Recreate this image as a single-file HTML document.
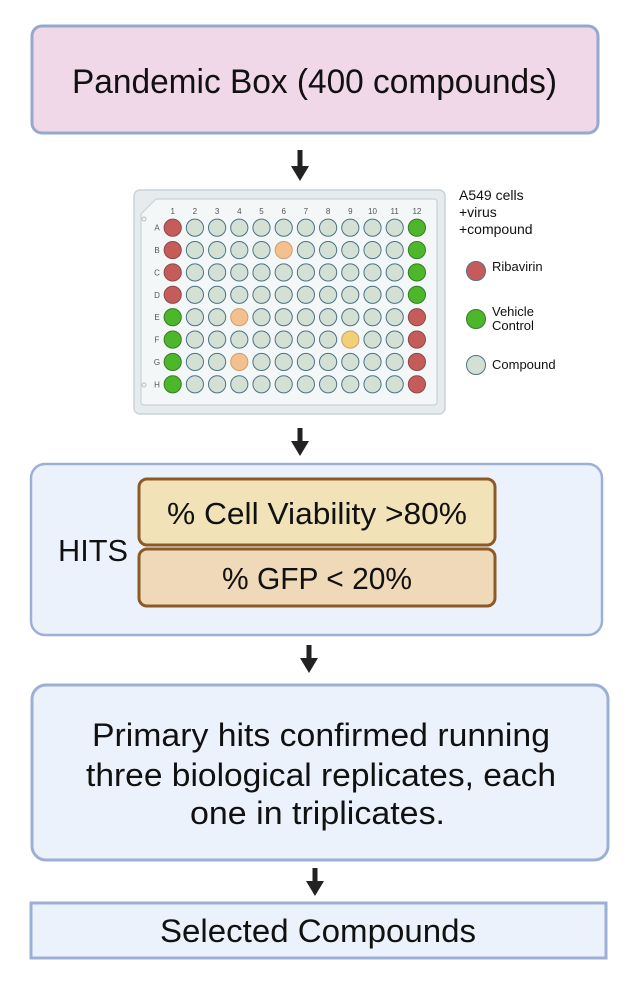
<!DOCTYPE html>
<html><head><meta charset="utf-8"><style>
html,body{margin:0;padding:0;background:#fff;}
svg{display:block;}
text{font-family:"Liberation Sans",sans-serif;fill:#111;}
</style></head><body>
<svg width="640" height="981" viewBox="0 0 640 981" xmlns="http://www.w3.org/2000/svg">
<rect x="32" y="26" width="566" height="107" rx="10" fill="#f1d8e9" stroke="#94a9cf" stroke-width="3"/>
<text x="72" y="93" font-size="34" textLength="485" lengthAdjust="spacingAndGlyphs">Pandemic Box (400 compounds)</text>
<g fill="#222">
<rect x="297.5" y="150" width="5" height="18"/><polygon points="291,166 309,166 300,181"/>
<rect x="297.5" y="428" width="5" height="15"/><polygon points="291,441 309,441 300,456"/>
<rect x="306.5" y="645" width="5" height="15"/><polygon points="300,658 318,658 309,673"/>
<rect x="312.5" y="868" width="5" height="15"/><polygon points="306,881 324,881 315,896"/>
</g>
<rect x="134" y="190" width="311" height="224" rx="6" fill="#e6ecee" stroke="#c9d3d8" stroke-width="1.5"/>
<path d="M156 199 H434 Q437 199 437 202 V402 Q437 405 434 405 H144 Q141 405 141 402 V214 Z" fill="#f4f7f8" stroke="#c9d3d8" stroke-width="1.2"/>
<circle cx="144" cy="219" r="2" fill="none" stroke="#bbb"/>
<circle cx="144" cy="385" r="2" fill="none" stroke="#bbb"/>
<g id="plate"></g>
<text x="459" y="200" font-size="14">A549 cells</text>
<text x="459" y="217" font-size="14">+virus</text>
<text x="459" y="234" font-size="14">+compound</text>
<circle cx="476" cy="271" r="9.5" fill="#c65c5a" stroke="#5a6b8a" stroke-width="1"/>
<text x="492" y="271" font-size="13">Ribavirin</text>
<circle cx="476" cy="319" r="9.5" fill="#4cb72a" stroke="#3a7a2a" stroke-width="1"/>
<text x="492" y="316" font-size="13">Vehicle</text>
<text x="492" y="330" font-size="13">Control</text>
<circle cx="476" cy="365" r="9.5" fill="#d4e0d4" stroke="#4c7288" stroke-width="1"/>
<text x="492" y="369" font-size="13">Compound</text>
<rect x="31" y="464" width="571" height="171" rx="14" fill="#ecf2fb" stroke="#9cb0d6" stroke-width="2.5"/>
<rect x="139" y="479" width="356" height="66" rx="8" fill="#f2e2b8" stroke="#8c5a26" stroke-width="3"/>
<rect x="139" y="549" width="356" height="57" rx="8" fill="#f0d9b8" stroke="#8c5a26" stroke-width="3"/>
<text x="167" y="524" font-size="31" textLength="300" lengthAdjust="spacingAndGlyphs">% Cell Viability &gt;80%</text>
<text x="222" y="589" font-size="31" textLength="190" lengthAdjust="spacingAndGlyphs">% GFP &lt; 20%</text>
<text x="58" y="561" font-size="31" textLength="70" lengthAdjust="spacingAndGlyphs">HITS</text>
<rect x="32" y="685" width="576" height="175" rx="14" fill="#ecf2fb" stroke="#9cb0d6" stroke-width="3"/>
<text x="92" y="746" font-size="32" textLength="458" lengthAdjust="spacingAndGlyphs">Primary hits confirmed running</text>
<text x="86" y="786" font-size="32" textLength="470" lengthAdjust="spacingAndGlyphs">three biological replicates, each</text>
<text x="190" y="824" font-size="32" textLength="255" lengthAdjust="spacingAndGlyphs">one in triplicates.</text>
<rect x="31" y="903" width="575" height="55" fill="#ecf2fb" stroke="#9cb0d6" stroke-width="3"/>
<text x="160" y="942" font-size="32" textLength="316" lengthAdjust="spacingAndGlyphs">Selected Compounds</text>
</svg>
<script>
(function(){
var g=document.getElementById('plate'),h='';
var rows='ABCDEFGH';
var R='#c65c5a',G='#4cb72a',C='#d4e0d4',O='#f5c08f',Y='#f3cf78';
for(var c=0;c<12;c++){var x=172.7+c*22.2;h+='<text x="'+x+'" y="214" font-size="8" text-anchor="middle" style="fill:#555">'+(c+1)+'</text>';}
for(var r=0;r<8;r++){var y=227.7+r*22.37;
h+='<text x="157" y="'+(y+3)+'" font-size="8" text-anchor="middle" style="fill:#555">'+rows[r]+'</text>';
for(var c=0;c<12;c++){var x=172.7+c*22.2,f=C,s='#4c7288';
if(c==0){f=r<4?R:G;}else if(c==11){f=r<4?G:R;}
if(r==1&&c==5)f=O;if(r==4&&c==3)f=O;if(r==6&&c==3)f=O;if(r==5&&c==8)f=Y;
if(f==R)s='#8a4a4a';if(f==G)s='#3a7a2a';if(f==O||f==Y)s='#c9a070';
h+='<circle cx="'+x+'" cy="'+y+'" r="8.6" fill="'+f+'" stroke="'+s+'" stroke-width="1"/>';}}
g.innerHTML=h;
})();
</script>
</body></html>
